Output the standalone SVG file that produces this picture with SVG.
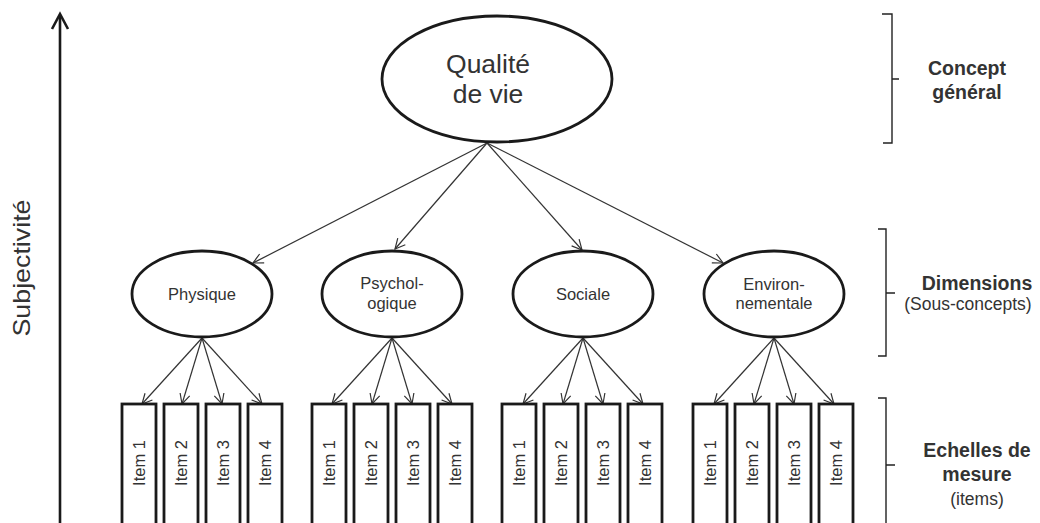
<svg xmlns="http://www.w3.org/2000/svg" width="1040" height="523" viewBox="0 0 1040 523">
<defs>
<style>
.t{font-family:"Liberation Sans",Arial,sans-serif;fill:#333;}
.b{font-weight:bold;}
.el{fill:#fff;stroke:#1a1a1a;stroke-width:2.8;}
.it{fill:#fff;stroke:#1a1a1a;stroke-width:2.8;}
.i{font-family:"Liberation Sans",Arial,sans-serif;fill:#333;font-size:16.5px;text-anchor:middle;}
.c{stroke:#333;stroke-width:1.2;fill:none;marker-end:url(#ah);}
.br{stroke:#222;stroke-width:1.4;fill:none;}
</style>
<marker id="ah" markerUnits="userSpaceOnUse" markerWidth="14" markerHeight="14" refX="11" refY="6" orient="auto" viewBox="0 0 14 12">
<path d="M1,1 L11,6 L1,11" fill="none" stroke="#333" stroke-width="1.2"/>
</marker>
</defs>
<rect width="1040" height="523" fill="#fff"/>

<g id="axis">
<line x1="60" y1="15" x2="60" y2="523" stroke="#1a1a1a" stroke-width="2.6"/>
<polyline points="52,29 60,14 68,29" fill="none" stroke="#1a1a1a" stroke-width="2.6"/>
<text class="t" font-size="24" text-anchor="middle" transform="translate(30,268) rotate(-90)" textLength="137" lengthAdjust="spacingAndGlyphs">Subjectivité</text>
</g>

<g id="connectors">
<line class="c" x1="487" y1="143" x2="253" y2="263"/>
<line class="c" x1="487" y1="143" x2="395" y2="249"/>
<line class="c" x1="487" y1="143" x2="582" y2="250"/>
<line class="c" x1="487" y1="143" x2="723" y2="263"/>

<line class="c" x1="202" y1="338" x2="142" y2="404"/>
<line class="c" x1="202" y1="338" x2="182" y2="404"/>
<line class="c" x1="202" y1="338" x2="222" y2="404"/>
<line class="c" x1="202" y1="338" x2="262" y2="404"/>

<line class="c" x1="392" y1="338" x2="332" y2="404"/>
<line class="c" x1="392" y1="338" x2="372" y2="404"/>
<line class="c" x1="392" y1="338" x2="412" y2="404"/>
<line class="c" x1="392" y1="338" x2="452" y2="404"/>

<line class="c" x1="583" y1="338" x2="523" y2="404"/>
<line class="c" x1="583" y1="338" x2="563" y2="404"/>
<line class="c" x1="583" y1="338" x2="603" y2="404"/>
<line class="c" x1="583" y1="338" x2="643" y2="404"/>

<line class="c" x1="774" y1="338" x2="714" y2="404"/>
<line class="c" x1="774" y1="338" x2="754" y2="404"/>
<line class="c" x1="774" y1="338" x2="794" y2="404"/>
<line class="c" x1="774" y1="338" x2="834" y2="404"/>
</g>

<g id="qualite">
<ellipse class="el" cx="497" cy="79" rx="115" ry="63"/>
<text class="t" font-size="26.5" text-anchor="middle" x="488" y="73">Qualité</text>
<text class="t" font-size="26.5" text-anchor="middle" x="488" y="103">de vie</text>
</g>

<g id="physique">
<ellipse class="el" cx="202" cy="294" rx="70" ry="43"/>
<text class="t" font-size="16.5" text-anchor="middle" x="202" y="300">Physique</text>
</g>
<g id="psychologique">
<ellipse class="el" cx="392" cy="294" rx="70" ry="43"/>
<text class="t" font-size="16.5" text-anchor="middle" x="392" y="289">Psychol-</text>
<text class="t" font-size="16.5" text-anchor="middle" x="392" y="309">ogique</text>
</g>
<g id="sociale">
<ellipse class="el" cx="583" cy="294" rx="70" ry="43"/>
<text class="t" font-size="16.5" text-anchor="middle" x="583" y="300">Sociale</text>
</g>
<g id="environnementale">
<ellipse class="el" cx="774" cy="294" rx="70" ry="43"/>
<text class="t" font-size="16.5" text-anchor="middle" x="774" y="290">Environ-</text>
<text class="t" font-size="16.5" text-anchor="middle" x="774" y="309">nementale</text>
</g>

<g id="items-physique">
<rect class="it" x="122" y="404" width="34" height="130"/>
<rect class="it" x="164" y="404" width="34" height="130"/>
<rect class="it" x="206" y="404" width="34" height="130"/>
<rect class="it" x="248" y="404" width="34" height="130"/>
<text class="i" transform="translate(145,463) rotate(-90)">Item 1</text>
<text class="i" transform="translate(187,463) rotate(-90)">Item 2</text>
<text class="i" transform="translate(229,463) rotate(-90)">Item 3</text>
<text class="i" transform="translate(271,463) rotate(-90)">Item 4</text>
</g>
<g id="items-psychologique">
<rect class="it" x="312" y="404" width="34" height="130"/>
<rect class="it" x="354" y="404" width="34" height="130"/>
<rect class="it" x="396" y="404" width="34" height="130"/>
<rect class="it" x="438" y="404" width="34" height="130"/>
<text class="i" transform="translate(335,463) rotate(-90)">Item 1</text>
<text class="i" transform="translate(377,463) rotate(-90)">Item 2</text>
<text class="i" transform="translate(419,463) rotate(-90)">Item 3</text>
<text class="i" transform="translate(461,463) rotate(-90)">Item 4</text>
</g>
<g id="items-sociale">
<rect class="it" x="502" y="404" width="34" height="130"/>
<rect class="it" x="544" y="404" width="34" height="130"/>
<rect class="it" x="586" y="404" width="34" height="130"/>
<rect class="it" x="628" y="404" width="34" height="130"/>
<text class="i" transform="translate(525,463) rotate(-90)">Item 1</text>
<text class="i" transform="translate(567,463) rotate(-90)">Item 2</text>
<text class="i" transform="translate(609,463) rotate(-90)">Item 3</text>
<text class="i" transform="translate(651,463) rotate(-90)">Item 4</text>
</g>
<g id="items-environnementale">
<rect class="it" x="693" y="404" width="34" height="130"/>
<rect class="it" x="735" y="404" width="34" height="130"/>
<rect class="it" x="777" y="404" width="34" height="130"/>
<rect class="it" x="819" y="404" width="34" height="130"/>
<text class="i" transform="translate(716,463) rotate(-90)">Item 1</text>
<text class="i" transform="translate(758,463) rotate(-90)">Item 2</text>
<text class="i" transform="translate(800,463) rotate(-90)">Item 3</text>
<text class="i" transform="translate(842,463) rotate(-90)">Item 4</text>
</g>

<g id="legend-concept">
<path class="br" d="M882,14 H892 V143 H883 M892,79 H899"/>
<text class="t b" font-size="19.5" text-anchor="middle" x="967" y="75">Concept</text>
<text class="t b" font-size="19.5" text-anchor="middle" x="967" y="99">général</text>
</g>
<g id="legend-dimensions">
<path class="br" d="M878,229 H886 V356 H878 M886,293 H895"/>
<text class="t b" font-size="19.5" text-anchor="middle" x="977" y="290">Dimensions</text>
<text class="t" font-size="17.5" text-anchor="middle" x="968" y="310">(Sous-concepts)</text>
</g>
<g id="legend-echelles">
<path class="br" d="M878,398 H886 V523 M886,465 H895"/>
<text class="t b" font-size="19.5" text-anchor="middle" x="977" y="457">Echelles de</text>
<text class="t b" font-size="19.5" text-anchor="middle" x="977" y="481">mesure</text>
<text class="t" font-size="17.5" text-anchor="middle" x="977" y="505">(items)</text>
</g>
</svg>
